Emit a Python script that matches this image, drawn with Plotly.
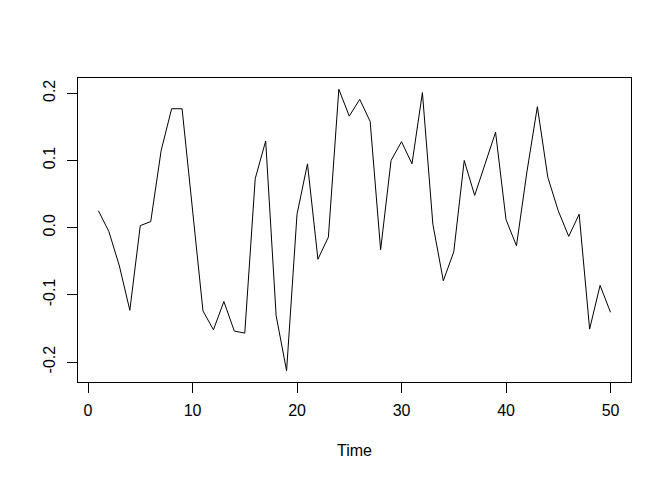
import plotly.graph_objects as go

time = list(range(1, 51))
values = [0.025, -0.006, -0.057, -0.123, 0.003, 0.009, 0.115, 0.177, 0.177, 0.027,
          -0.124, -0.152, -0.110, -0.154, -0.157, 0.073, 0.129, -0.131, -0.213, 0.020,
          0.095, -0.047, -0.014, 0.206, 0.166, 0.191, 0.158, -0.033, 0.100, 0.128,
          0.095, 0.201, 0.005, -0.079, -0.036, 0.100, 0.048, 0.095, 0.142, 0.012,
          -0.027, 0.083, 0.180, 0.075, 0.025, -0.013, 0.020, -0.151, -0.086, -0.126]

x_ticks = [0, 10, 20, 30, 40, 50]
y_ticks = [-0.2, -0.1, 0.0, 0.1, 0.2]
y_ticktext = ["-0.2", "-0.1", "0.0", "0.1", "0.2"]

# R-style 4% axis extension
def r_range(lo, hi):
    d = (hi - lo) * 0.04
    return [lo - d, hi + d]

fig = go.Figure()
fig.add_trace(go.Scatter(x=time, y=values, mode="lines",
                         line=dict(color="black", width=1), showlegend=False))

font = dict(family="Liberation Sans, Arial, sans-serif", size=16, color="black")

fig.update_layout(
    width=672, height=480,
    margin=dict(l=70, r=49, t=70, b=106),
    paper_bgcolor="white", plot_bgcolor="white",
    font=font,
    xaxis=dict(
        range=r_range(min(time), max(time)), tickvals=x_ticks,
        ticktext=[str(v) for v in x_ticks],
        showgrid=False, zeroline=False, showline=True, linecolor="black", linewidth=1,
        mirror=True, ticks="outside", ticklen=10, tickcolor="black", tickwidth=1,
        ticklabelstandoff=4, automargin=False,
        title=dict(text="Time", standoff=26, font=font),
    ),
    yaxis=dict(
        range=r_range(min(values), max(values)), tickvals=y_ticks, ticktext=y_ticktext,
        showgrid=False, zeroline=False, showline=True, linecolor="black", linewidth=1,
        mirror=True, ticks="outside", ticklen=10, tickcolor="black", tickwidth=1,
        tickangle=-90, ticklabelstandoff=6, automargin=False,
    ),
)

fig.write_html("out.html")
